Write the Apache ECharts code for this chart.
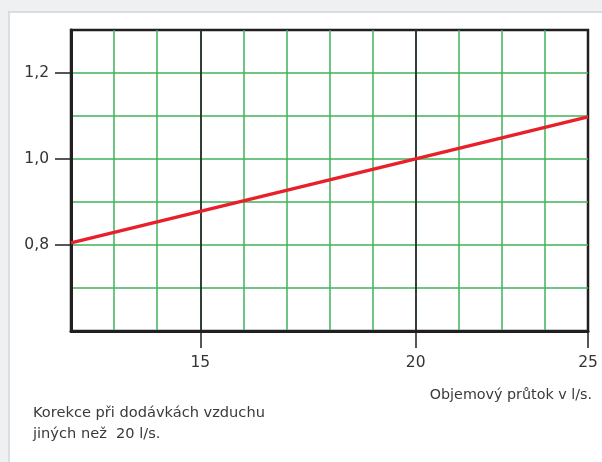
<!DOCTYPE html>
<html>
<head>
<meta charset="utf-8">
<script src="https://cdn.jsdelivr.net/npm/echarts@6/dist/echarts.min.js"></script>
<style>
  html, body { margin: 0; padding: 0; background: #eef0f2; }
  #chart { width: 602px; height: 462px; }
</style>
</head>
<body>
<div id="chart"></div>
<script>
// flow rate (l/s) vs correction factor
var flowValues = [12, 24]
var correctionValues = [0.805, 1.098]

var xTickValues = [15, 20, 24]
var xTickLabels = ['15', '20', '25']
var yTickValues = [0.8, 1.0, 1.2]
var darkGridValues = [15, 20]

var xAxisTitle = 'Objemový průtok v l/s.'
var noteText = 'Korekce při dodávkách vzduchu\njiných než  20 l/s.'

var green = '#3cb55a'
var dark = '#231f20'
var font = 'DejaVu Sans'

var myChart = echarts.init(document.getElementById('chart'))

var xRange = { min: 12, max: 24 }
var yRange = { min: 0.6, max: 1.3 }

myChart.setOption({
    backgroundColor: 'transparent',
    animation: false,
    graphic: [
        {
            type: 'rect', z: -10,
            shape: { x: 9, y: 12, width: 700, height: 500 },
            style: { fill: '#ffffff', stroke: '#dcdde0', lineWidth: 2 }
        },
        {
            type: 'text', right: 10, top: 388,
            style: { text: xAxisTitle, fill: '#3a3a3a', font: '14.3px ' + font }
        },
        {
            type: 'text', left: 33, top: 403,
            style: { text: noteText, fill: '#3a3a3a', font: '14.6px ' + font, lineHeight: 21 }
        }
    ],
    grid: {
        left: 71, right: 14, top: 30, bottom: 131,
        show: true, borderColor: dark, borderWidth: 2.5, backgroundColor: '#fff'
    },
    xAxis: [
        {   // grid lines only
            type: 'value', min: xRange.min, max: xRange.max, interval: 1,
            axisLine: { show: false }, axisTick: { show: false }, axisLabel: { show: false },
            splitLine: { show: true, showMinLine: false, showMaxLine: false, lineStyle: { color: green, width: 1.5 } }
        },
        {   // ticks and labels
            type: 'value', min: xRange.min, max: xRange.max, position: 'bottom',
            axisLine: { show: true, lineStyle: { color: dark, width: 3 } },
            axisTick: { show: true, customValues: xTickValues, length: 17, lineStyle: { color: dark, width: 1.5 } },
            axisLabel: {
                customValues: xTickValues, margin: 24, color: '#333', fontSize: 15.5, fontFamily: font,
                formatter: function (v) { return xTickLabels[xTickValues.indexOf(v)] }
            },
            splitLine: { show: false }
        }
    ],
    yAxis: [
        {
            type: 'value', min: yRange.min, max: yRange.max, interval: 0.1,
            axisLine: { show: false }, axisTick: { show: false }, axisLabel: { show: false },
            splitLine: { show: true, showMinLine: false, showMaxLine: false, lineStyle: { color: green, width: 1.5 } }
        },
        {
            type: 'value', min: yRange.min, max: yRange.max, position: 'left',
            axisLine: { show: true, lineStyle: { color: dark, width: 3 } },
            axisTick: { show: true, customValues: yTickValues, length: 16, lineStyle: { color: dark, width: 1.5 } },
            axisLabel: {
                customValues: yTickValues, margin: 22, color: '#333', fontSize: 15.5, fontFamily: font,
                formatter: function (v) { return v.toFixed(1).replace('.', ',') }
            },
            splitLine: { show: false }
        }
    ],
    series: [{
        type: 'line',
        data: flowValues.map(function (x, i) { return [x, correctionValues[i]] }),
        symbol: 'none',
        lineStyle: { color: '#e8202a', width: 3.5 },
        z: 5,
        markLine: {
            silent: true, symbol: 'none', label: { show: false },
            lineStyle: { color: dark, width: 1.6, type: 'solid' },
            data: darkGridValues.map(function (v) { return { xAxis: v } }),
            z: 3
        }
    }]
})
</script>
</body>
</html>
